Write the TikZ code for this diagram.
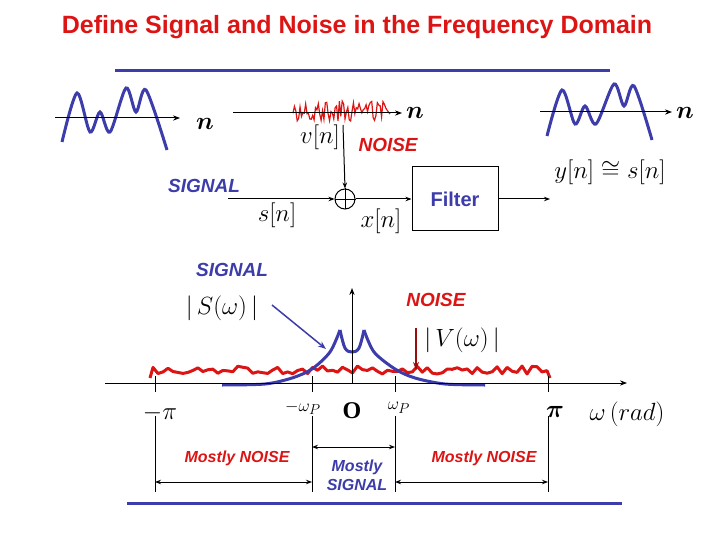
\documentclass[tikz,border=0pt]{standalone}
\usepackage{amsmath,bm}
\usepackage{fontspec}
\setmainfont{Liberation Sans}
\usetikzlibrary{arrows.meta}
\definecolor{myblue}{RGB}{60,60,170}
\definecolor{myred}{RGB}{220,20,20}
\newcommand{\mm}[1]{\fontsize{25}{26}\selectfont $#1$}
\begin{document}
\begin{tikzpicture}[x=1pt,y=-1pt,
  lbl/.style={font=\bfseries\itshape\fontsize{19}{21}\selectfont},
  small/.style={font=\bfseries\itshape\fontsize{16}{19}\selectfont},
  wave/.style={myblue,line width=3pt},
  ax/.style={black,line width=1pt,-{Stealth[length=7pt]}},
  bar/.style={black,line width=1pt},
  dim/.style={black,line width=1pt,{Stealth[length=6pt]}-{Stealth[length=6pt]}}]
\useasboundingbox (0,0) rectangle (720,540);
\pgfmathsetseed{7}
\node[font=\bfseries\fontsize{25}{27}\selectfont,myred] (title) at (357,27) {Define Signal and Noise in the Frequency Domain};
\draw[myblue,line width=3pt] (115,71) -- (610,71);
\draw[myblue,line width=3pt] (127,503) -- (622,503);
% left waveform
\coordinate (la) at (55,118); \coordinate (lb) at (180,118);
\draw[wave] plot[smooth,tension=0.5] coordinates{(62,142)(77,93)(90,132)(100,112)(110,132)(126,88)(136,112)(146,90)(167,150)};
\draw[ax] (la) -- (lb);
\node (n1) at (205,124) {\fontsize{26}{26}\selectfont$\bm{n}$};
% right waveform
\coordinate (ra) at (540,112); \coordinate (rb) at (672,112);
\draw[wave] plot[smooth,tension=0.5] coordinates{(547,136)(562,90)(575,124)(585,106)(596,124)(614,84)(624,106)(634,86)(652,140)};
\draw[ax] (ra) -- (rb);
\node (n3) at (685,113) {\fontsize{26}{26}\selectfont$\bm{n}$};
% noise waveform
\coordinate (na) at (233,113); \coordinate (nb) at (402,113);
\draw[myred,line width=1.2pt] plot[domain=293:390,samples=70] (\x,{111+10*rand});
\draw[ax] (na) -- (nb);
\node (n2) at (415,113) {\fontsize{26}{26}\selectfont$\bm{n}$};
% block diagram
\node (vn) at (320,137) {\mm{v[n]}};
\node[lbl,myred,anchor=west] (noise1) at (355,145) {NOISE};
\node[draw,circle,line width=1pt,minimum size=20pt,inner sep=0pt] (sum) at (345,199) {};
\draw[line width=0.8pt] (sum.north)--(sum.south) (sum.west)--(sum.east);
\coordinate (vtop) at (343,125);
\draw[line width=1pt,-{Stealth[length=6pt]}] (vtop) -- (sum.north);
\coordinate (sin) at (228,199);
\draw[line width=1pt,-{Stealth[length=6pt]}] (sin) -- (sum.west);
\node[lbl,myblue] (sig1) at (204,186) {SIGNAL};
\node (sn) at (277,215) {\mm{s[n]}};
\node (xn) at (381,221) {\mm{x[n]}};
\node[draw,line width=1pt,minimum width=86pt,minimum height=64pt,font=\bfseries\fontsize{20}{22}\selectfont,text=myblue] (filt) at (455,199) {Filter};
\draw[line width=1pt,-{Stealth[length=6pt]}] (sum.east) -- (filt.west);
\coordinate (yout) at (550,199);
\draw[line width=1pt,-{Stealth[length=6pt]}] (filt.east) -- (yout);
\node[inner sep=1pt] (yn) at (610,172) {\mm{y[n]\cong s[n]}};
% spectrum
\coordinate (xa) at (105,383); \coordinate (xb) at (627,383);
\coordinate (ya) at (352,383); \coordinate (yb) at (352,288);
\draw[myred,line width=3pt,line join=round] (150,378) -- plot[domain=153:547,samples=80] (\x,{370+4*rand}) -- (550,378);
\draw[wave,line join=round] plot[smooth,tension=0.5] coordinates{(222,385)(265,384)(292,378)(312,369)(330,352)(340,330)};
\draw[wave,line join=round] plot[smooth,tension=0.6] coordinates{(340,330)(345,348)(352,352)(359,348)(364,330)};
\draw[wave,line join=round] plot[smooth,tension=0.5] coordinates{(364,330)(374,352)(395,369)(415,378)(445,384)(485,385)};
\draw[ax] (xa) -- (xb);
\draw[ax] (ya) -- (yb);
\foreach \t/\x in {t1/155,t2/312,t3/395,t4/548}{
  \coordinate (\t a) at (\x,376); \coordinate (\t b) at (\x,392);
  \coordinate (\t c) at (\x,416); \coordinate (\t d) at (\x,492);
  \draw[bar] (\t a) -- (\t b); \draw[bar] (\t c) -- (\t d);}
\coordinate (d1a) at (155,482); \coordinate (d1b) at (312,482);
\coordinate (d2a) at (312,447); \coordinate (d2b) at (395,447);
\coordinate (d3a) at (395,482); \coordinate (d3b) at (548,482);
\draw[dim] (d1a) -- (d1b); \draw[dim] (d2a) -- (d2b); \draw[dim] (d3a) -- (d3b);
\node (mpi) at (160,413) {\mm{-\pi}};
\node (mwp) at (303,408) {\fontsize{19}{19}\selectfont$-\omega_P$};
\node (O) at (352,411) {\fontspec{Liberation Serif}\bfseries\fontsize{24}{24}\selectfont O};
\node (wp) at (399,408) {\fontsize{19}{19}\selectfont$\omega_P$};
\node (pi) at (555,412) {\mm{\bm{\pi}}};
\node (wrad) at (627,414) {\mm{\omega\,(rad)}};
\node[small,myred] (mn1) at (237,458) {Mostly NOISE};
\node[small,myblue,align=center] (ms) at (357,475) {Mostly\\SIGNAL};
\node[small,myred] (mn2) at (484,458) {Mostly NOISE};
\node[lbl,myblue] (sig2) at (232,270) {SIGNAL};
\node (Sw) at (222,308) {\mm{|\,S(\omega)\,|}};
\coordinate (sa) at (272,305); \coordinate (sb) at (326,349);
\draw[myblue,line width=1.5pt,-{Stealth[length=8pt]}] (sa) -- (sb);
\node[lbl,myred] (noise2) at (436,300) {NOISE};
\node (Vw) at (462,340) {\mm{|\,V(\omega)\,|}};
\coordinate (va) at (416,328); \coordinate (vb) at (416,370);
\draw[myred!70!black,line width=1.5pt,-{Stealth[length=8pt]}] (va) -- (vb);
\end{tikzpicture}
\end{document}
